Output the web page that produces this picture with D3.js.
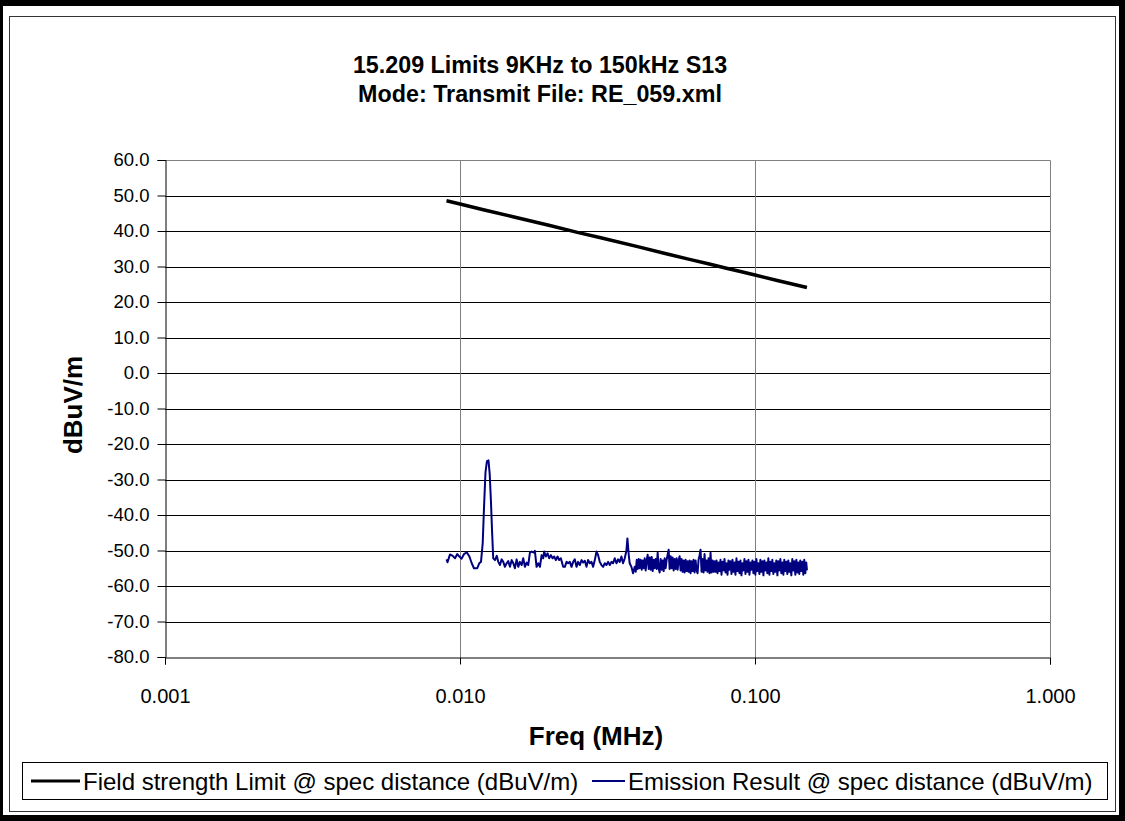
<!DOCTYPE html>
<html><head><meta charset="utf-8">
<script src="https://cdn.jsdelivr.net/npm/d3@7"></script>
<style>body{margin:0;background:#fff} text{font-family:Arial,"Liberation Sans",sans-serif;fill:#000}</style>
</head><body><svg id="c" width="1125" height="821"></svg>
<script>
const titleLines = ["15.209 Limits 9KHz to 150kHz S13", "Mode: Transmit File: RE_059.xml"];
const xAxisTitle = "Freq (MHz)";
const yAxisTitle = "dBuV/m";
const yTicks = [60,50,40,30,20,10,0,-10,-20,-30,-40,-50,-60,-70,-80];
const xTicks = [0.001,0.01,0.1,1];
const seriesNames = ["Field strength Limit @ spec distance (dBuV/m)", "Emission Result @ spec distance (dBuV/m)"];
// limit line: [kHz, dBuV/m]
const limitData = [[9,48.5],[10,47.6],[12,46.0],[15,44.1],[20,41.6],[25,39.6],[30,38.1],[40,35.6],[50,33.6],[60,32.0],[70,30.7],[80,29.5],[90,28.5],[100,27.6],[120,26.0],[150,24.1]];
// emission: [kHz, dBuV/m]
const emissionData = [
[9.00,-52.5],[9.07,-53.3],[9.25,-51.1],[9.45,-51.5],[9.62,-52.2],[9.79,-51.0],[9.95,-51.7],[10.13,-52.3],[10.32,-51.0],[10.54,-50.5],
[10.76,-51.7],[10.96,-53.6],[11.15,-55.0],[11.44,-55.0],[11.62,-53.6],[11.78,-53.2],[11.94,-47.9],[12.06,-38.0],[12.20,-28.0],[12.34,-24.8],
[12.49,-24.6],[12.61,-28.5],[12.73,-36.0],[12.85,-45.0],[12.96,-52.2],[13.14,-52.7],[13.32,-51.5],[13.48,-53.2],[13.66,-54.1],[13.84,-52.5],
[14.02,-53.2],[14.20,-54.6],[14.39,-53.6],[14.57,-53.0],[14.77,-54.6],[14.97,-52.7],[15.16,-53.6],[15.35,-55.0],[15.56,-52.5],[15.76,-54.6],
[15.96,-53.2],[16.18,-54.1],[16.38,-52.2],[16.60,-54.6],[16.82,-53.4],[17.03,-54.1],[17.26,-50.6],[17.49,-50.3],[17.81,-50.6],[17.94,-50.1],
[18.18,-54.6],[18.42,-53.6],[18.66,-54.6],[18.91,-51.3],[19.14,-52.2],[19.29,-50.3],[19.55,-51.7],[19.81,-50.8],[20.06,-52.2],[20.33,-51.3],
[20.60,-52.2],[20.86,-51.7],[21.13,-52.7],[21.41,-51.7],[21.68,-52.7],[21.97,-52.2],[22.37,-54.6],[22.67,-54.6],[22.97,-53.2],[23.26,-53.6],
[23.57,-53.2],[23.88,-54.6],[24.19,-53.2],[24.50,-52.5],[24.83,-54.6],[25.14,-53.2],[25.48,-54.1],[25.82,-52.7],[26.14,-53.4],[26.49,-52.9],
[26.84,-54.6],[27.18,-52.7],[27.54,-53.6],[27.91,-53.2],[28.27,-54.6],[28.64,-52.7],[29.02,-50.3],[29.39,-51.3],[29.77,-53.2],[30.17,-54.1],
[30.56,-54.6],[30.96,-53.6],[31.37,-54.1],[31.78,-53.2],[32.19,-54.1],[32.62,-53.2],[33.04,-53.6],[33.46,-52.2],[33.91,-53.6],[34.34,-52.5],
[34.79,-53.2],[35.25,-51.7],[35.70,-53.6],[36.18,-52.2],[36.66,-50.0],[36.94,-46.6],[37.33,-51.3],[37.61,-53.6],[38.11,-54.6],[38.60,-56.4],
[39.11,-54.6],[39.42,-56.0],[39.73,-52.6],[40.04,-55.2],[40.35,-52.4],[40.66,-55.0],[40.98,-52.6],[41.30,-55.4],[41.62,-52.8],[41.94,-55.0],
[42.27,-52.2],[42.60,-55.6],[42.93,-52.8],[43.27,-51.2],[43.61,-55.2],[43.95,-52.0],[44.29,-55.4],[44.64,-51.8],[44.99,-55.8],[45.34,-52.6],
[45.70,-55.0],[46.06,-52.4],[46.42,-55.2],[46.78,-50.6],[47.14,-55.0],[47.51,-56.2],[47.88,-52.4],[48.26,-55.4],[48.63,-52.8],[49.01,-55.8],
[49.40,-52.2],[49.79,-55.0],[50.18,-52.6],[50.57,-51.2],[50.97,-49.8],[51.36,-55.2],[51.77,-51.6],[52.17,-55.0],[52.58,-52.0],[52.99,-55.6],
[53.40,-52.4],[53.82,-55.2],[54.24,-52.2],[54.67,-55.4],[55.09,-52.8],[55.52,-51.6],[55.96,-55.6],[56.40,-52.4],[56.84,-56.0],[57.28,-52.8],
[57.72,-56.2],[58.17,-52.6],[58.63,-55.8],[59.09,-53.0],[59.55,-56.0],[60.01,-52.8],[60.48,-56.4],[60.95,-53.0],[61.43,-55.8],[61.91,-52.6],
[62.40,-56.2],[62.89,-52.8],[63.38,-55.6],[63.87,-56.4],[64.37,-52.6],[64.87,-51.4],[65.38,-49.8],[65.89,-56.0],[66.41,-52.4],[66.93,-56.2],
[67.45,-51.0],[67.98,-55.6],[68.51,-52.8],[69.05,-56.0],[69.59,-52.2],[70.13,-56.4],[70.68,-50.6],[71.23,-56.2],[71.79,-52.8],[72.35,-56.0],
[72.91,-53.0],[73.48,-56.0],[74.06,-52.8],[74.64,-56.4],[75.22,-53.4],[75.80,-55.8],[76.39,-52.6],[76.99,-56.8],[77.59,-53.2],[78.20,-55.6],
[78.81,-52.4],[79.43,-56.2],[80.05,-53.6],[80.68,-56.8],[81.31,-52.8],[81.94,-55.4],[82.58,-53.0],[83.23,-56.6],[83.88,-52.6],[84.53,-56.0],
[85.19,-53.4],[85.86,-56.8],[86.53,-52.2],[87.21,-55.8],[87.89,-53.2],[88.57,-56.4],[89.27,-52.8],[89.97,-57.0],[90.67,-53.6],[91.38,-55.6],
[92.09,-52.4],[92.81,-56.6],[93.54,-53.0],[94.27,-56.0],[95.00,-52.6],[95.74,-56.8],[96.49,-53.4],[97.25,-55.4],[98.01,-52.8],[98.77,-56.4],
[99.54,-53.2],[100.3,-56.8],[101.1,-52.4],[101.9,-55.8],[102.7,-53.6],[103.5,-56.6],[104.3,-52.6],[105.1,-56.0],[105.9,-53.0],[106.8,-57.0],
[107.6,-52.8],[108.4,-55.6],[109.3,-53.4],[110.1,-56.4],[111.0,-52.2],[111.9,-56.8],[112.7,-53.2],[113.6,-55.8],[114.5,-52.6],[115.4,-56.6],
[116.3,-53.6],[117.2,-56.0],[118.1,-52.8],[119.1,-57.0],[120.0,-53.0],[120.9,-55.6],[121.9,-52.4],[122.8,-56.4],[123.8,-53.4],[124.8,-56.8],
[125.7,-52.6],[126.7,-55.8],[127.7,-53.2],[128.7,-56.6],[129.7,-52.8],[130.7,-56.0],[131.7,-53.6],[132.8,-57.0],[133.8,-52.4],[134.9,-55.6],
[135.9,-53.0],[137.0,-56.8],[138.1,-52.6],[139.2,-56.2],[140.2,-53.4],[141.3,-56.6],[142.4,-52.8],[143.6,-55.8],[144.7,-53.2],[145.8,-56.8],
[146.9,-52.6],[148.1,-56.4],[149.2,-53.4],[150.0,-55.6]
];

const svg = d3.select("#c");
const W = 1125, H = 821;
const plot = {left:165, right:1050, top:160, bottom:657};
const x = d3.scaleLog().domain([0.001,1]).range([plot.left, plot.right]);
const y = d3.scaleLinear().domain([-80,60]).range([plot.bottom, plot.top]);

// frames
svg.append("rect").attr("x",0).attr("y",0).attr("width",W).attr("height",H).attr("fill","#000");
svg.append("rect").attr("x",3).attr("y",6).attr("width",1116).attr("height",809).attr("fill","#fff");
svg.append("rect").attr("x",9.5).attr("y",16.5).attr("width",1106).attr("height",795).attr("fill","none").attr("stroke","#333").attr("stroke-width",1);

// title
const tt = svg.append("text").attr("text-anchor","middle").attr("font-weight","bold").attr("font-size",23.3);
titleLines.forEach((t,i)=> tt.append("tspan").attr("x",540).attr("y",73 + i*29).text(t));

// gridlines
const g = svg.append("g");
g.selectAll("line.h").data(yTicks.filter(d=>d>-80 && d<60)).join("line")
  .attr("x1",plot.left).attr("x2",plot.right).attr("y1",d=>Math.round(y(d))+0.5).attr("y2",d=>Math.round(y(d))+0.5)
  .attr("stroke","#000").attr("stroke-width",1);
g.selectAll("line.v").data(xTicks.filter(d=>d>0.001 && d<1)).join("line")
  .attr("x1",d=>Math.round(x(d))+0.5).attr("x2",d=>Math.round(x(d))+0.5).attr("y1",plot.top).attr("y2",plot.bottom)
  .attr("stroke","#808080").attr("stroke-width",1);
// plot area border top/right
svg.append("path").attr("d",`M${plot.left},${plot.top+0.5}H${plot.right+0.5}V${plot.bottom}`)
  .attr("fill","none").attr("stroke","#808080").attr("stroke-width",1);

// axes
const yAxis = svg.append("g").attr("transform",`translate(${plot.left+0.5},0)`)
  .call(d3.axisLeft(y).tickValues(yTicks).tickFormat(d=>d.toFixed(1)).tickSize(8).tickPadding(8));
const xAxis = svg.append("g").attr("transform",`translate(0,${plot.bottom+0.5})`)
  .call(d3.axisBottom(x).tickValues(xTicks).tickFormat(d=>d.toFixed(3)).tickSize(7).tickPadding(24));
[yAxis,xAxis].forEach(a=>{
  a.selectAll("path.domain").attr("stroke","#000");
  a.selectAll(".tick line").attr("stroke","#000");
  a.selectAll("text").attr("font-family","Arial, 'Liberation Sans', sans-serif").attr("fill","#000");
});
yAxis.selectAll("text").attr("font-size",18.5);
xAxis.selectAll("text").attr("font-size",20);

// axis titles
svg.append("text").attr("x",596).attr("y",745).attr("text-anchor","middle").attr("font-weight","bold").attr("font-size",26).text(xAxisTitle);
svg.append("text").attr("transform","translate(82,405) rotate(-90)").attr("text-anchor","middle").attr("font-weight","bold").attr("font-size",26).text(yAxisTitle);

// series
const line = d3.line().x(d=>x(d[0]/1000)).y(d=>y(d[1]));
svg.append("path").datum(limitData).attr("d",line).attr("fill","none").attr("stroke","#000").attr("stroke-width",3.5);
svg.append("path").datum(emissionData).attr("d",line).attr("fill","none").attr("stroke","#000080").attr("stroke-width",2).attr("stroke-linejoin","round");

// legend
svg.append("rect").attr("x",22.5).attr("y",762.5).attr("width",1085).attr("height",37).attr("fill","#fff").attr("stroke","#000").attr("stroke-width",1);
const leg = [{x1:31,x2:80,c:"#000",w:3,tx:83,name:seriesNames[0]},{x1:592,x2:625,c:"#000080",w:2,tx:628,name:seriesNames[1]}];
leg.forEach(l=>{
  svg.append("line").attr("x1",l.x1).attr("x2",l.x2).attr("y1",781).attr("y2",781).attr("stroke",l.c).attr("stroke-width",l.w);
  svg.append("text").attr("x",l.tx).attr("y",789.5).attr("font-size",24).text(l.name);
});
</script></body></html>
